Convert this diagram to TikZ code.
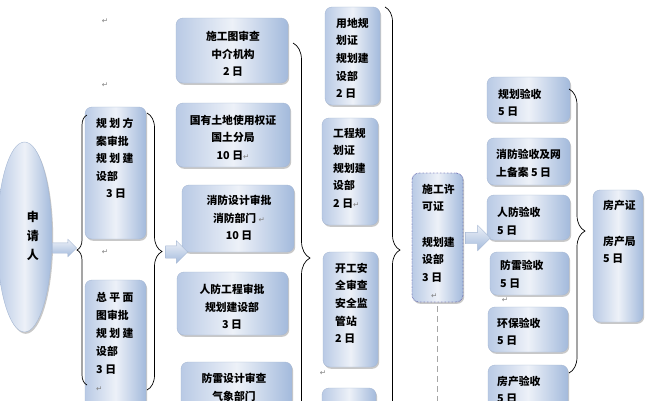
\documentclass[tikz,border=0pt]{standalone}
\usepackage{fontspec}
\newfontfamily\cjk{Noto Sans CJK SC}
\newfontfamily\dejavu{DejaVu Sans}
\usetikzlibrary{shapes.geometric,shapes.arrows,shadows,decorations.pathreplacing}
\definecolor{bxl}{HTML}{B9CAE5}
\definecolor{bxm}{HTML}{EDF1F8}
\definecolor{bxr}{HTML}{A3BADC}
\definecolor{bxline}{HTML}{A6B8D4}
\definecolor{dotline}{HTML}{5A5AA8}
\newcommand\pmk{{\dejavu\mdseries\fontsize{7.5}{8}\selectfont\textcolor{gray}{↵}}}
\tikzset{
  bx/.style={draw=bxline, line width=0.4pt, rounded corners=7pt, inner sep=0pt,
    left color=bxl, right color=bxr, middle color=bxm,
    drop shadow={shadow xshift=1.2pt, shadow yshift=-1.8pt, opacity=0.3, fill=black!70}},
  txt/.style={inner sep=0pt, anchor=north west, align=left,
    font=\cjk\bfseries\fontsize{10.8}{17.6}\selectfont},
  ctxt/.style={txt, anchor=north, align=center},
  pm/.style={inner sep=0pt, text=gray, font=\dejavu\fontsize{7.5}{8}\selectfont},
  brc/.style={draw=black, line width=0.7pt, decorate},
  barrow/.style={single arrow, draw=bxline, line width=0.4pt, inner xsep=0pt,
    single arrow head indent=0pt, top color=bxm, bottom color=bxr}
}
\begin{document}
\begin{tikzpicture}[x=1pt,y=-1pt]
\useasboundingbox (0,0) rectangle (650,400);
\clip (0,0) rectangle (650,400);
\fill[white] (0,0) rectangle (650,400);

% applicant ellipse
\node[ellipse, bx, minimum width=55, minimum height=190] (app) at (24.5,237) {};
\node[ctxt, font=\cjk\bfseries\fontsize{12}{19}\selectfont] (appt) at (33,211) {申\\请\\人};

% column 1
\node[bx, minimum width=61, minimum height=132] (a1) at (115.5,173) {};
\node[bx, minimum width=61, minimum height=160] (a2) at (115.5,360) {};
\node[txt] (a1t) at (96,117.8) {规 划 方\\案审批\\规 划 建\\设部\\\hspace{10pt}3 日};
\node[txt, font=\cjk\bfseries\fontsize{10.8}{18}\selectfont] (a2t) at (96,291.8) {总 平 面\\图审批\\规 划 建\\设部\\3 日\\\pmk};

% column 2
\node[bx, minimum width=112, minimum height=65] (c1) at (232,50.5) {};
\node[bx, minimum width=114, minimum height=64] (c2) at (233,135) {};
\node[bx, minimum width=112, minimum height=67] (c3) at (238,218.5) {};
\node[bx, minimum width=111, minimum height=63] (c4) at (232.5,303.5) {};
\node[bx, minimum width=111, minimum height=68] (c5) at (236.5,396) {};
\node[ctxt] (c1t) at (233,30.8) {施工图审查\\中介机构\\2 日};
\node[ctxt] (c2t) at (233,114.8) {国有土地使用权证\\国土分局\\10 日\pmk};
\node[ctxt] (c3t) at (239,194.8) {消防设计审批\\消防部门 \pmk\\10 日};
\node[ctxt] (c4t) at (232,283.8) {人防工程审批\\规划建设部\\3 日};
\node[ctxt] (c5t) at (234,372.8) {防雷设计审查\\气象部门};

% column 3
\node[bx, minimum width=55, minimum height=98] (d1) at (352.5,56) {};
\node[bx, minimum width=56, minimum height=107] (d2) at (350,171.5) {};
\node[bx, minimum width=55, minimum height=115] (d3) at (350.5,309.5) {};
\node[bx, minimum width=54, minimum height=62] (d4) at (349,419) {};
\node[txt] (d1t) at (336,17.8) {用地规\\划证\\规划建\\设部\\2 日};
\node[txt] (d2t) at (333,127.8) {工程规\\划证\\规划建\\设部\\2 日\pmk};
\node[txt] (d3t) at (335,262.8) {开工安\\全审查\\安全监\\管站\\2 日};

% construction permit
\node[bx, draw=dotline, densely dotted, line width=0.9pt, minimum width=51, minimum height=129] (e) at (437.5,237.5) {};
\node[txt] (et) at (422,183.8) {施工许\\可证\\\mbox{}\\规划建\\设部\\3 日\\\hspace{9pt}\pmk};
\coordinate (edash) at (437.5,402);
\draw[draw=black!35, line width=1.3pt, dash pattern=on 6pt off 4pt] (e.south) ++(0,4) -- (edash);

% column 4
\node[bx, minimum width=83, minimum height=45] (f1) at (528.5,99.5) {};
\node[bx, minimum width=83, minimum height=47] (f2) at (528.5,161.5) {};
\node[bx, minimum width=83, minimum height=45] (f3) at (528.5,217.5) {};
\node[bx, minimum width=79, minimum height=43] (f4) at (529.5,273.5) {};
\node[bx, minimum width=80, minimum height=45] (f5) at (528,329.5) {};
\node[bx, minimum width=80, minimum height=60] (f6) at (528,395) {};
\node[txt] (f1t) at (498,88.8) {规划验收\\5 日};
\node[txt] (f2t) at (496,149.3) {消防验收及网\\上备案 5 日};
\node[txt] (f3t) at (497,207.3) {人防验收\\5 日};
\node[txt] (f4t) at (500,260.3) {防雷验收\\5 日};
\node[txt] (f5t) at (497,317.8) {环保验收\\5 日};
\node[txt] (f6t) at (497,375.8) {房产验收\\5 日};

% property certificate
\node[bx, minimum width=50, minimum height=132] (g) at (618,256) {};
\node[txt] (gt) at (603,200.3) {房产证\\\mbox{}\\房产局\\5 日};

% braces
\draw[brc, decoration={brace, amplitude=10pt}] (87,385) -- (87,115);
\draw[brc, decoration={brace, amplitude=15pt}] (147,113) -- (147,390);
\draw[brc, decoration={brace, amplitude=17pt}] (293,43) -- (293,473);
\draw[brc, decoration={brace, amplitude=15pt}] (385,7) -- (385,493);
\draw[brc, decoration={brace, amplitude=16pt}] (569,89) -- (569,373);

% block arrows
\node[barrow, minimum height=24, inner ysep=5pt, single arrow head extend=3.5pt] (ar1) at (62,248) {};
\node[barrow, minimum height=22, inner ysep=6pt, single arrow head extend=5pt] (ar2) at (173.5,252) {};
\node[barrow, minimum height=25, inner ysep=5.5pt, single arrow head extend=7pt] (ar3) at (475,238) {};

% paragraph marks
\node[pm] (p1) at (105,21) {↵};
\node[pm] (p2) at (105,85) {↵};
\node[pm] (p3) at (105,252) {↵};
\node[pm] (p4) at (323,373) {↵};
\node[pm] (p5) at (505,300) {↵};
\end{tikzpicture}
\end{document}
